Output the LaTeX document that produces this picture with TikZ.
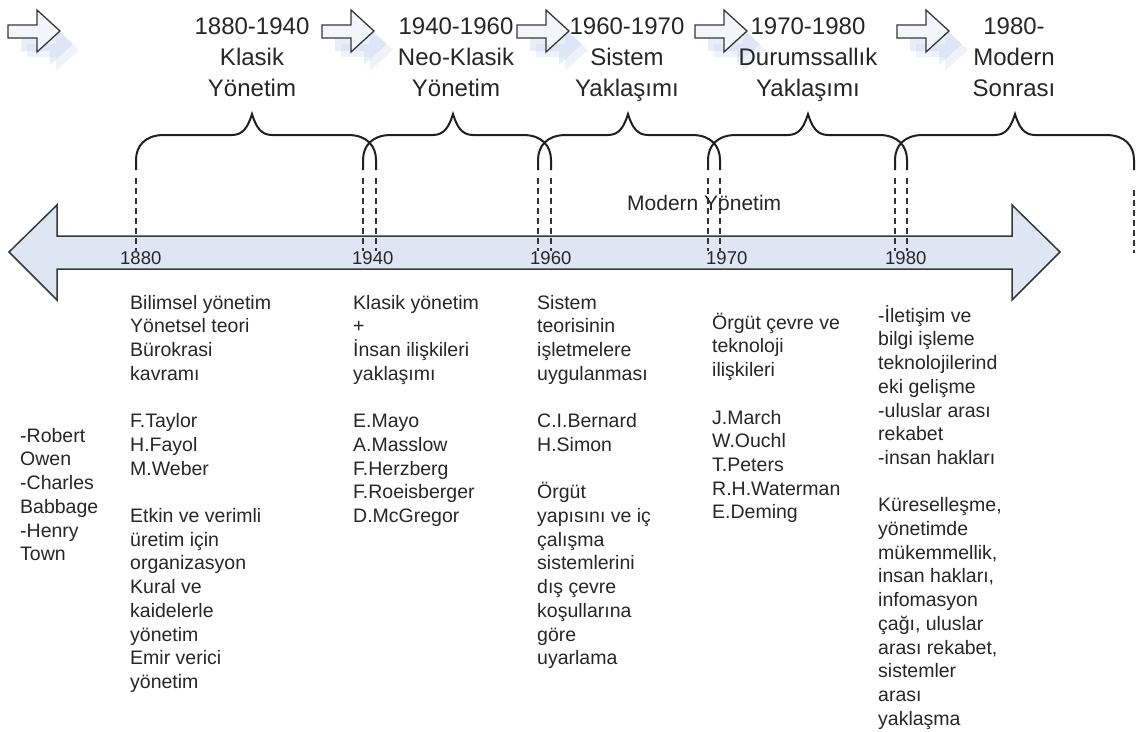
\documentclass[tikz,border=0pt]{standalone}
\usepackage{fontspec}
\setmainfont{Liberation Sans}
\definecolor{txt}{RGB}{38,38,38}
\definecolor{shaftfill}{RGB}{222,230,244}
\definecolor{edge}{RGB}{55,55,55}
\definecolor{shadowblue}{RGB}{190,205,235}
\definecolor{arrowfill}{RGB}{244,245,250}
\newcommand\tstrut[1]{\rule{0pt}{#1}}
\newcommand\tlbrace[3]{%
  \draw[bracestyle] (#1,170) -- (#1,160) .. controls (#1,146) and ({#1+9},135) .. ({#1+28},135)
    -- ({#2-20},135) .. controls ({#2-9},135) and ({#2-4},127) .. (#2,114)
    .. controls ({#2+4},127) and ({#2+9},135) .. ({#2+20},135)
    -- ({#3-28},135) .. controls ({#3-9},135) and (#3,146) .. (#3,160) -- (#3,170);}
\newcommand\toparrow[1]{%
  \begin{scope}[shift={(#1,10)}]
    \fill[shadowblue, opacity=0.25] (19,34) -- (48,34) -- (48,19) -- (71,40) -- (48,61) -- (48,47) -- (19,47) -- cycle;
    \fill[shadowblue, opacity=0.35] (13,28) -- (42,28) -- (42,13) -- (65,34) -- (42,55) -- (42,41) -- (13,41) -- cycle;
    \draw[edge, line width=1.3pt, fill=arrowfill] (0,15) -- (29,15) -- (29,0) -- (52,21) -- (29,42) -- (29,28) -- (0,28) -- cycle;
  \end{scope}}
\begin{document}
\begin{tikzpicture}[x=1pt,y=-1pt,
  body/.style={anchor=north west, align=left, inner sep=0, text=txt, font=\fontsize{19.5}{23.7}\selectfont},
  period/.style={anchor=north, align=center, inner sep=0, text=txt, font=\fontsize{24}{31}\selectfont},
  year/.style={anchor=base west, inner sep=0, text=txt, font=\fontsize{18.5}{22}\selectfont},
  bracestyle/.style={draw=black!88, line width=2pt},
  tick/.style={draw=black!80, line width=1.2pt, dash pattern=on 6pt off 4pt},
  bigarrow/.style={draw=edge, line width=1.5pt, fill=shaftfill, line join=miter}
]
\useasboundingbox (0,0) rectangle (1138,731);

% top arrows
\toparrow{8}
\toparrow{322}
\toparrow{517}
\toparrow{695}
\toparrow{897}

% period headings (first baseline at y=34)
\node[period] (p1) at (252,10) {\tstrut{24pt}1880-1940\\Klasik\\Yönetim};
\node[period] (p2) at (456,10) {\tstrut{24pt}1940-1960\\Neo-Klasik\\Yönetim};
\node[period] (p3) at (627,10) {\tstrut{24pt}1960-1970\\Sistem\\Yaklaşımı};
\node[period] (p4) at (808,10) {\tstrut{24pt}1970-1980\\Durumssallık\\Yaklaşımı};
\node[period] (p5) at (1014,10) {\tstrut{24pt}1980-\\Modern\\Sonrası};

% braces
\tlbrace{136}{252}{376}
\tlbrace{363}{453}{551}
\tlbrace{538}{628}{720}
\tlbrace{708}{808}{907}
\tlbrace{895}{1015}{1134}

% big double arrow
\draw[bigarrow] (9,252) -- (57,205) -- (57,236) -- (1012,236) -- (1012,205) -- (1060,252)
  -- (1012,300) -- (1012,269) -- (57,269) -- (57,300) -- cycle;

% dashed ticks
\foreach \xx in {136,363,376,538,551,708,720,895,907}
  \draw[tick] (\xx,178) -- (\xx,251);
\draw[tick] (1134,190) -- (1134,253);

% modern label
\node[anchor=base west, inner sep=0, text=txt, font=\fontsize{21}{25}\selectfont] (modern) at (627,210) {Modern Yönetim};

% year labels
\node[year] (y1880) at (120,264) {1880};
\node[year] (y1940) at (352,264) {1940};
\node[year] (y1960) at (530,264) {1960};
\node[year] (y1970) at (706,264) {1970};
\node[year] (y1980) at (885,264) {1980};

% columns (top = first baseline - 20)
\node[body] (c0) at (20,422) {\tstrut{20pt}-Robert\\Owen\\-Charles\\Babbage\\-Henry\\Town};
\node[body] (c1) at (130,289) {\tstrut{20pt}Bilimsel yönetim\\Yönetsel teori\\Bürokrasi\\kavramı\\[23.7pt]F.Taylor\\H.Fayol\\M.Weber\\[23.7pt]Etkin ve verimli\\üretim için\\organizasyon\\Kural ve\\kaidelerle\\yönetim\\Emir verici\\yönetim};
\node[body] (c2) at (353,289) {\tstrut{20pt}Klasik yönetim\\+\\İnsan ilişkileri\\yaklaşımı\\[23.7pt]E.Mayo\\A.Masslow\\F.Herzberg\\F.Roeisberger\\D.McGregor};
\node[body] (c3) at (537,289) {\tstrut{20pt}Sistem\\teorisinin\\işletmelere\\uygulanması\\[23.7pt]C.I.Bernard\\H.Simon\\[23.7pt]Örgüt\\yapısını ve iç\\çalışma\\sistemlerini\\dış çevre\\koşullarına\\göre\\uyarlama};
\node[body] (c4) at (712,309) {\tstrut{20pt}Örgüt çevre ve\\teknoloji\\ilişkileri\\[23.7pt]J.March\\W.Ouchl\\T.Peters\\R.H.Waterman\\E.Deming};
\node[body] (c5) at (878,302) {\tstrut{20pt}-İletişim ve\\bilgi işleme\\teknolojilerind\\eki gelişme\\-uluslar arası\\rekabet\\-insan hakları\\[23.7pt]Küreselleşme,\\yönetimde\\mükemmellik,\\insan hakları,\\infomasyon\\çağı, uluslar\\arası rekabet,\\sistemler\\arası\\yaklaşma};
\end{tikzpicture}
\end{document}
